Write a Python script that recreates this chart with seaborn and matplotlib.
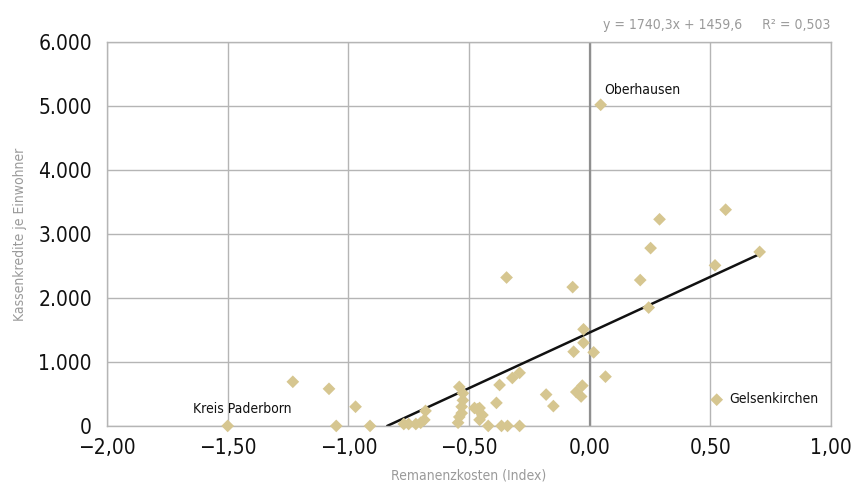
import numpy as np
import pandas as pd
import matplotlib
matplotlib.use("Agg")
import matplotlib.pyplot as plt
import seaborn as sns
from matplotlib.ticker import FuncFormatter, MultipleLocator

# Daten
remanenz = [
    -1.50, -1.23, -1.08, -0.97, -1.05, -0.91,
    -0.77, -0.75, -0.72, -0.70, -0.685, -0.68,
    -0.54, -0.525, -0.525, -0.53, -0.53, -0.54, -0.545,
    -0.477, -0.456, -0.444, -0.465, -0.456,
    -0.42, -0.386, -0.373, -0.365, -0.34, -0.32, -0.29, -0.29, -0.344,
    -0.18, -0.15, -0.07, -0.066, -0.055, -0.035, -0.03, -0.025, -0.025,
    0.017, 0.066, 0.29, 0.253, 0.21, 0.245, 0.564, 0.705, 0.52, 0.527,
    0.046,
]
kassenkredite = [
    0, 690, 580, 300, 0, 0,
    30, 30, 30, 50, 95, 235,
    610, 510, 400, 300, 200, 140, 50,
    280, 280, 170, 260, 95,
    0, 360, 640, 0, 0, 750, 830, 0, 2320,
    490, 310, 2170, 1160, 530, 460, 630, 1510, 1300,
    1150, 770, 3230, 2780, 2280, 1850, 3380, 2720, 2510, 410,
    5020,
]
namen = ["Kreis Paderborn", "Oberhausen", "Gelsenkirchen"]
namen_x = [-1.645, 0.062, 0.577]
namen_y = [270, 5250, 420]

steigung = 1740.3
achsenabschnitt = 1459.6
r2 = 0.503

df = pd.DataFrame({"Remanenz": remanenz, "Kredite": kassenkredite})

sns.set_style("white")
plt.rcParams["font.family"] = ["DejaVu Sans"]
plt.rcParams["font.stretch"] = "condensed"

fig = plt.figure(figsize=(8.53, 4.84), dpi=100)
ax = fig.add_axes([0.1255, 0.12, 0.8485, 0.793])

gitter = "#b5b5b5"
ax.grid(True, color=gitter, linewidth=1.0)
ax.set_axisbelow(True)
for s in ax.spines.values():
    s.set_color(gitter)
    s.set_linewidth(1.0)
ax.axvline(0, color="#8f8f8f", linewidth=1.6, zorder=1)

# Regressionsgerade
x0 = -achsenabschnitt / steigung
xs = np.array([x0, max(remanenz)])
ax.plot(xs, steigung * xs + achsenabschnitt, color="#111111", linewidth=1.8, zorder=2)

sns.scatterplot(data=df, x="Remanenz", y="Kredite", marker="D", s=42,
                color="#d6c690", edgecolor="none", ax=ax, zorder=3, clip_on=False)

ax.set_xlim(-2, 1)
ax.set_ylim(0, 6000)
ax.xaxis.set_major_locator(MultipleLocator(0.5))
ax.yaxis.set_major_locator(MultipleLocator(1000))
ax.xaxis.set_major_formatter(FuncFormatter(
    lambda v, p: f"{v:.2f}".replace(".", ",").replace("-", "\u2212")))
ax.yaxis.set_major_formatter(FuncFormatter(
    lambda v, p: f"{int(v):,}".replace(",", ".")))
ax.tick_params(axis="both", labelsize=15, colors="#111111", length=0)
ax.tick_params(axis="y", pad=11)
ax.tick_params(axis="x", pad=9)

ax.set_xlabel("Remanenzkosten (Index)", fontsize=10, color="#9a9a9a", labelpad=7)
ax.set_ylabel("Kassenkredite je Einwohner", fontsize=10, color="#9a9a9a", labelpad=8)

for name, tx, ty in zip(namen, namen_x, namen_y):
    ax.text(tx, ty, name, fontsize=10, color="#111111", va="center", ha="left")

fig.text(0.974, 0.934,
         f"y = {steigung:.1f}x + {achsenabschnitt:.1f}".replace(".", ",")
         + "     R\u00b2 = " + f"{r2:.3f}".replace(".", ","),
         ha="right", va="bottom", fontsize=10, color="#9a9a9a")

fig.savefig("out.png", dpi=100)
